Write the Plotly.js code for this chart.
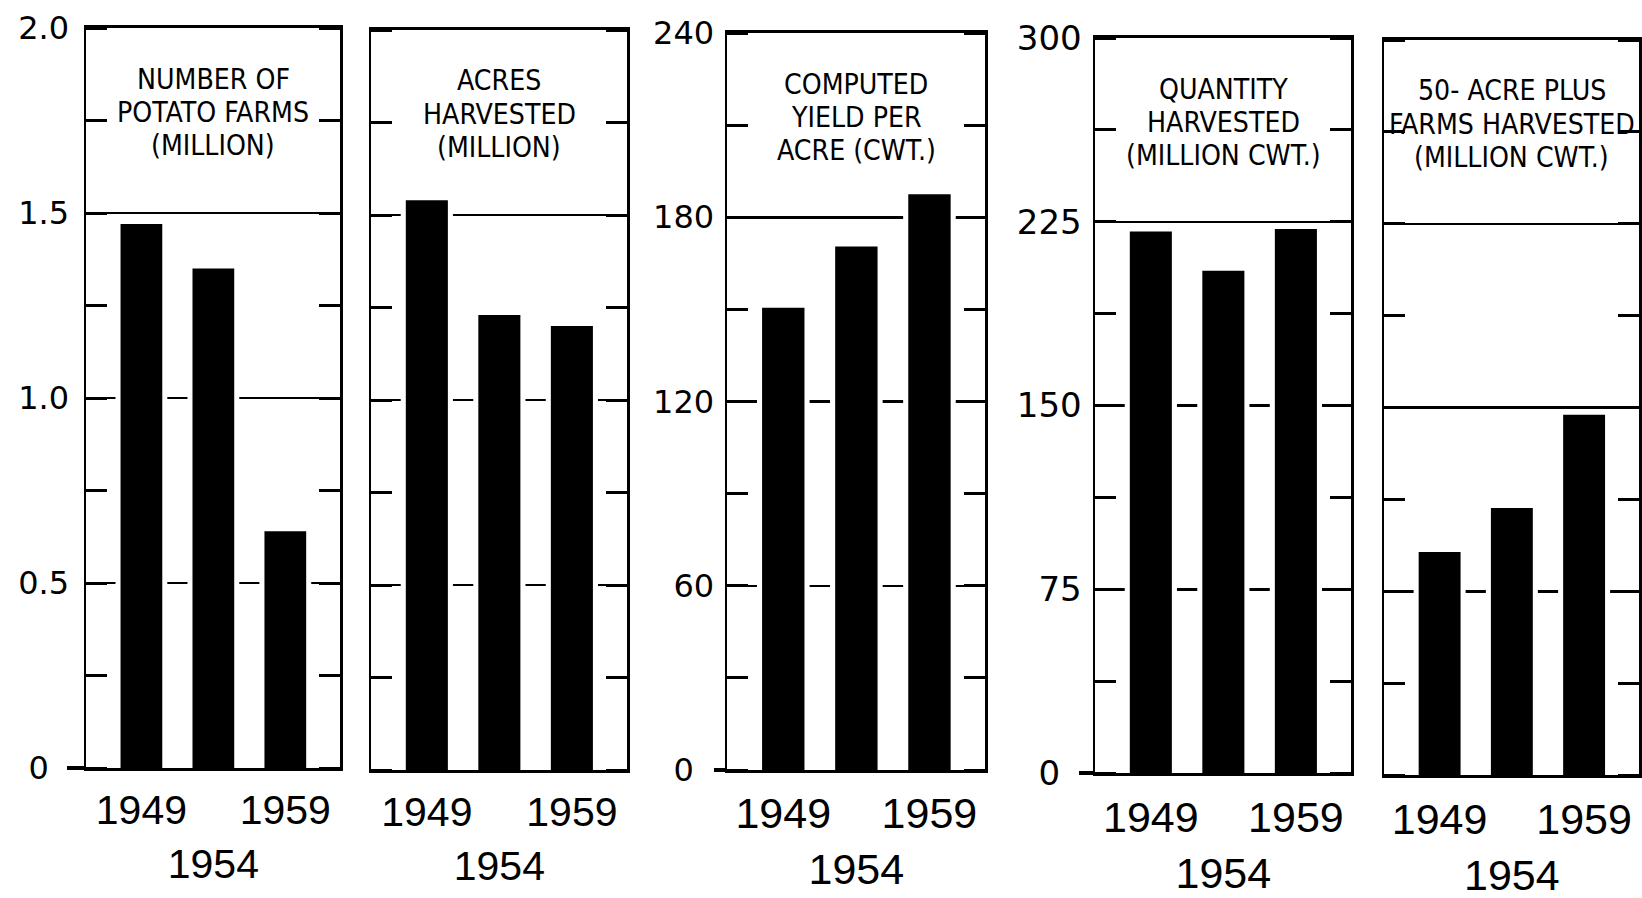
<!DOCTYPE html>
<html>
<head>
<meta charset="utf-8">
<script src="https://cdn.plot.ly/plotly-3.0.1.min.js"></script>
<style>html,body{margin:0;padding:0;background:#fff;overflow:hidden}</style>
</head>
<body>
<div id="chart" style="width:1642px;height:898px"></div>
<script>
// ---------------- data ----------------
const years = ["1949", "1954", "1959"];
const yearLabels = ["1949", "\u00a0<br>1954", "1959"];

const farmsMillion = [1.47, 1.35, 0.64];
const acresMillion = [1.54, 1.23, 1.20];
const yieldPerAcreCwt = [150.5, 170.5, 187.5];
const quantityMillionCwt = [221, 205, 222];
const bigFarmsMillionCwt = [91, 109, 147];

const titleFarms = ["NUMBER OF", "POTATO FARMS", "(MILLION)"];
const titleAcres = ["ACRES", "HARVESTED", "(MILLION)"];
const titleYield = ["COMPUTED", "YIELD PER", "ACRE (CWT.)"];
const titleQuantity = ["QUANTITY", "HARVESTED", "(MILLION CWT.)"];
const titleBigFarms = ["50- ACRE PLUS", "FARMS HARVESTED", "(MILLION CWT.)"];

const ticksMillion = [0, 0.5, 1.0, 1.5, 2.0];
const tickTextMillion = ["0", "0.5", "1.0", "1.5", "2.0"];
const ticksYield = [0, 60, 120, 180, 240];
const tickTextYield = ["0", "60", "120", "180", "240"];
const ticksCwt = [0, 75, 150, 225, 300];
const tickTextCwt = ["0", "75", "150", "225", "300"];

// ---------------- fonts ----------------
function fontAvailable(name) {
  const c = document.createElement('canvas').getContext('2d');
  const s = 'HARVESTED 1949 abc';
  c.font = '100px monospace';
  const a = c.measureText(s).width;
  c.font = '100px "' + name + '", monospace';
  const b = c.measureText(s).width;
  return Math.abs(a - b) > 0.5;
}
function textWidth(family, size, s) {
  const c = document.createElement('canvas').getContext('2d');
  c.font = size + 'px ' + family;
  return c.measureText(s).width;
}
let titleFamily = '"Liberation Sans", Arial, sans-serif';
for (const f of ["Liberation Sans Narrow", "DejaVu Sans Condensed", "Roboto Condensed"]) {
  if (fontAvailable(f)) { titleFamily = '"' + f + '", "Liberation Sans", sans-serif'; break; }
}
// size the title font so that "HARVESTED" is ~153 px wide, as in the reference
const titleSize = Math.min(31, 100 * 153 / textWidth(titleFamily, 100, 'HARVESTED'));

const numFamily = '"DejaVu Sans", sans-serif';
const yearFamily = '"Liberation Sans", Arial, sans-serif';

// ---------------- geometry (pixels of the 1642x898 page) ----------------
const W = 1642, H = 898;
const panels = [
  {vals: farmsMillion, title: titleFarms, x: [86, 340], y: [28, 768], range: [0, 2.0],
   tv: ticksMillion, tt: tickTextMillion, minor: 0.25, labels: true, yfs: 32, yso: 8, xfs: 41, xso: 4, stub: 18},
  {vals: acresMillion, title: titleAcres, x: [371, 627], y: [30, 770], range: [0, 2.0],
   tv: ticksMillion, tt: tickTextMillion, minor: 0.25, labels: false, yfs: 32, yso: 8, xfs: 41, xso: 4, stub: 0},
  {vals: yieldPerAcreCwt, title: titleYield, x: [727, 985], y: [33, 770], range: [0, 240],
   tv: ticksYield, tt: tickTextYield, minor: 30, labels: true, yfs: 32, yso: 4, xfs: 43, xso: 3, stub: 12},
  {vals: quantityMillionCwt, title: titleQuantity, x: [1095, 1351], y: [38, 773], range: [0, 300],
   tv: ticksCwt, tt: tickTextCwt, minor: 37.5, labels: true, yfs: 34, yso: 4, xfs: 43, xso: 4, stub: 15},
  {vals: bigFarmsMillionCwt, title: titleBigFarms, x: [1384, 1639], y: [40, 775], range: [0, 300],
   tv: ticksCwt, tt: tickTextCwt, minor: 37.5, labels: false, yfs: 34, yso: 4, xfs: 43, xso: 4, stub: 0}
];
const titleLineOffsets = [51, 84.5, 117.5];

const data = [];
const layout = {
  width: W, height: H, autosize: false,
  margin: {l: 0, r: 0, t: 0, b: 0},
  paper_bgcolor: '#fff', plot_bgcolor: 'rgba(0,0,0,0)',
  showlegend: false, barmode: 'overlay',
  annotations: []
};

panels.forEach((p, i) => {
  const n = i + 1;
  const xk = 'xaxis' + (n === 1 ? '' : n), yk = 'yaxis' + (n === 1 ? '' : n);
  const xr = 'x' + (n === 1 ? '' : n), yr = 'y' + (n === 1 ? '' : n);
  // white halo behind each bar: breaks the grid lines beside the bars
  data.push({
    type: 'bar', x: years, y: p.vals, xaxis: xr, yaxis: yr,
    width: 0.72, marker: {color: '#fff', line: {width: 0}}, hoverinfo: 'skip'
  });
  data.push({
    type: 'bar', x: years, y: p.vals, xaxis: xr, yaxis: yr,
    width: 0.58, marker: {color: '#000', line: {width: 0}}, hoverinfo: 'skip'
  });
  // keep the "0" label clear of the outward zero-line stub
  const ticktext = p.tt.map((t, k) => (p.stub && p.tv[k] === 0) ? t + '\u00a0\u00a0' : t);
  layout[xk] = {
    domain: [p.x[0] / W, p.x[1] / W], anchor: yr,
    type: 'category', range: [-0.77, 2.76],
    showline: true, linewidth: 3, linecolor: '#000', mirror: true,
    ticks: '', showgrid: false, zeroline: false,
    tickmode: 'array', tickvals: years, ticktext: yearLabels, tickangle: 0,
    tickfont: {family: yearFamily, size: p.xfs, color: '#000'},
    ticklabelstandoff: p.xso, fixedrange: true
  };
  layout[yk] = {
    domain: [1 - p.y[1] / H, 1 - p.y[0] / H], anchor: xr,
    range: p.range, tickmode: 'array', tickvals: p.tv, ticktext: ticktext,
    showticklabels: p.labels,
    tickfont: {family: numFamily, size: p.yfs, color: '#000'},
    ticklabelstandoff: p.yso,
    showgrid: true, gridcolor: '#000', gridwidth: 2.5,
    showline: true, linewidth: 2.5, linecolor: '#000', mirror: 'ticks',
    ticks: '', zeroline: false,
    minor: {tickmode: 'linear', tick0: 0, dtick: p.minor, ticks: 'inside', ticklen: 21,
            tickwidth: 3, tickcolor: '#000', showgrid: false},
    fixedrange: true
  };
  p.title.forEach((line, j) => {
    layout.annotations.push({
      text: line, showarrow: false,
      xref: xr + ' domain', yref: yr + ' domain', x: 0.5, y: 1,
      xanchor: 'center', yanchor: 'middle', yshift: -titleLineOffsets[j],
      font: {family: titleFamily, size: titleSize, color: '#000'}
    });
  });
});

// short outward stub of the zero line at the left of the labelled panels
let extra = 6;
panels.forEach((p, i) => {
  if (!p.stub) return;
  const n = i + 1;
  const yr = 'y' + (n === 1 ? '' : n);
  const xr = 'x' + (n === 1 ? '' : n);
  layout['yaxis' + extra] = {
    overlaying: yr, anchor: xr, side: 'left', range: p.range,
    tickmode: 'array', tickvals: [0], ticks: 'outside', ticklen: p.stub,
    tickwidth: 4, tickcolor: '#000', showticklabels: false,
    showgrid: false, showline: false, zeroline: false, fixedrange: true
  };
  data.push({type: 'scatter', x: [years[0]], y: [0], xaxis: xr, yaxis: 'y' + extra,
             mode: 'markers', marker: {opacity: 0}, hoverinfo: 'skip'});
  extra++;
});

Plotly.newPlot('chart', data, layout, {staticPlot: true, displayModeBar: false});
</script>
</body>
</html>
